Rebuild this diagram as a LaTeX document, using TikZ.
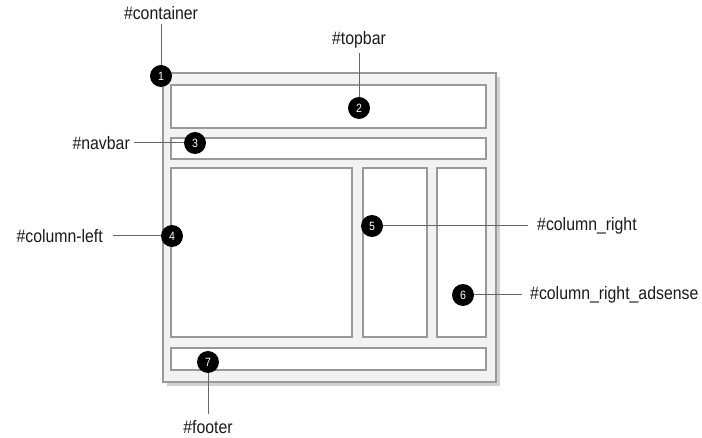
\documentclass[tikz,border=0pt]{standalone}
\usepackage{fontspec}
\setmainfont{Liberation Sans}[FakeStretch=0.88]
\usetikzlibrary{shadows}
\definecolor{frame}{HTML}{999999}
\definecolor{panel}{HTML}{F2F2F2}
\definecolor{conn}{HTML}{666666}
\definecolor{ink}{HTML}{1A1A1A}
\begin{document}
\begin{tikzpicture}[x=1pt,y=-1pt,
  region/.style={draw=frame, line width=1.5pt, fill=white, inner sep=0pt, minimum width=315pt},
  outerbox/.style={draw=frame, line width=1.5pt, fill=panel, inner sep=0pt,
     drop shadow={shadow xshift=4pt, shadow yshift=-4pt, opacity=0.18, fill=black}},
  badge/.style={circle, fill=black, text=white, inner sep=0pt, minimum size=22pt,
     font=\fontsize{12}{14}\selectfont},
  tag/.style={text=ink, inner sep=4pt, font=\fontsize{18}{20}\selectfont},
  lead/.style={draw=conn, line width=1pt}]
\useasboundingbox (0,0) rectangle (702,438);
% container
\node[outerbox, minimum width=333pt, minimum height=309pt] (container) at (329.5,227.5) {};
% regions
\node[region, minimum height=43pt] (topbar) at (328.5,106.5) {};
\node[region, minimum height=21pt] (navbar) at (328.5,148.5) {};
\node[region, minimum width=181pt, minimum height=169pt] (colleft) at (261.5,252.5) {};
\node[region, minimum width=64pt, minimum height=169pt] (colright) at (395,252.5) {};
\node[region, minimum width=49pt, minimum height=169pt] (adsense) at (461.5,252.5) {};
\node[region, minimum height=22pt] (footer) at (328.5,359) {};
% badges
\node[badge] (c1) at (161,76) {1};
\node[badge] (c2) at (359,108) {2};
\node[badge] (c3) at (195,143) {3};
\node[badge] (c4) at (172,236) {4};
\node[badge] (c5) at (372,226) {5};
\node[badge] (c6) at (463,295) {6};
\node[badge] (c7) at (208,362) {7};
% labels
\node[tag] (l1) at (161,13) {\#container};
\node[tag] (l2) at (359,40) {\#topbar};
\node[tag, anchor=east] (l3) at (134,143) {\#navbar};
\node[tag, anchor=east] (l4) at (107,236) {\#column-left};
\node[tag, anchor=west] (l5) at (533,226) {\#column\_right};
\node[tag, anchor=west] (l6) at (526,295) {\#column\_right\_adsense};
\node[tag] (l7) at (208,427) {\#footer};
% leads
\draw[lead] (l1) -- (c1);
\draw[lead] (l2) -- (c2);
\draw[lead] (l3) -- (c3);
\draw[lead, shorten <=6pt] (l4) -- (c4);
\draw[lead, shorten >=5pt] (c5) -- (l5);
\draw[lead, shorten >=4pt] (c6) -- (l6);
\draw[lead, shorten >=2pt] (c7) -- (l7);
\end{tikzpicture}
\end{document}
